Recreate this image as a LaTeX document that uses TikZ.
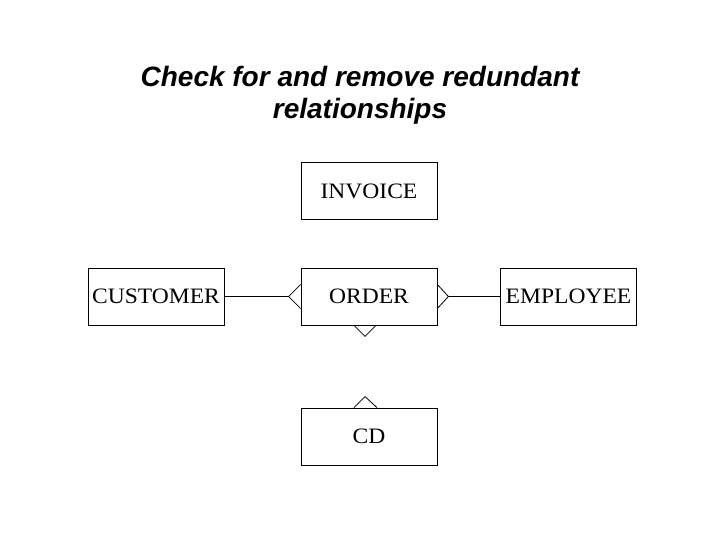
\documentclass[tikz,border=0pt]{standalone}
\usepackage{fontspec}
\setmainfont{Liberation Serif}
\newfontfamily\boxfont[FakeStretch=1.07]{Liberation Serif}
\newfontfamily\titlefont{Liberation Sans}
\begin{document}
\begin{tikzpicture}[x=1pt,y=-1pt,
  entity/.style={draw,line width=0.8pt,minimum width=136pt,minimum height=57pt,inner sep=0pt,font=\boxfont\fontsize{22}{26}\selectfont},
  conn/.style={line width=0.8pt},
  titletext/.style={font=\titlefont\bfseries\itshape\fontsize{28}{31.5}\selectfont,align=center}]
\useasboundingbox (0,0) rectangle (720,540);
\node[titletext] (title) at (360,95.5) {Check for and remove redundant\\relationships};
\node[entity] (invoice) at (369,191) {INVOICE};
\node[entity] (customer) at (156,296.5) {CUSTOMER};
\node[entity] (order) at (369,296.5) {ORDER};
\node[entity] (employee) at (568.5,296.5) {EMPLOYEE};
\node[entity] (cd) at (369,436.5) {CD};
% customer - order (crow's foot at order)
\coordinate (lapex) at ([xshift=-12pt]order.west);
\draw[conn] (customer.east) -- (lapex);
\draw[conn] ([yshift=12pt]order.west) -- (lapex) -- ([yshift=-12pt]order.west);
% employee - order (crow's foot at order)
\coordinate (rapex) at ([xshift=11pt]order.east);
\draw[conn] (employee.west) -- (rapex);
\draw[conn] ([yshift=12pt]order.east) -- (rapex) -- ([yshift=-12pt]order.east);
% order - cd (removed line, marks only)
\coordinate (bapex) at ([xshift=-4pt,yshift=-11pt]order.south);
\draw[conn] ([xshift=-15pt]order.south) -- (bapex) -- ([xshift=7pt]order.south);
\coordinate (tapex) at ([xshift=-4pt,yshift=11pt]cd.north);
\draw[conn] ([xshift=-15pt]cd.north) -- (tapex) -- ([xshift=8pt]cd.north);
\end{tikzpicture}
\end{document}
